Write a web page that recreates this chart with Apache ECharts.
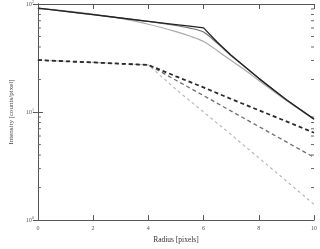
<!DOCTYPE html>
<html><head><meta charset="utf-8">
<script src="https://cdn.jsdelivr.net/npm/echarts@6/dist/echarts.min.js"></script>
<style>html,body{margin:0;padding:0;background:#fff}#c{width:320px;height:249px}</style>
</head><body><div id="c"></div>
<script>
var radius = [0,1,2,3,4,5,5.5,6,6.5,7,7.5,8,9,10];
var solidDark  = [91.6,85.4,79.6,74.2,69.2,64.5,62.3,60.1,44.3,33.5,26.2,20.5,13.0,8.6];
var solidMid   = [91.6,85.4,79.6,74.2,69.0,63.2,59.8,55.0,43.2,33.2,26.1,20.5,13.0,8.6];
var solidLight = [91.0,86.5,80.5,73.5,65.0,55.5,50.5,45.0,37.0,30.0,24.5,19.6,12.8,8.6];
var dashDark   = [30.3,29.5,28.8,28.0,27.3,21.4,null,16.9,null,13.2,null,10.4,8.2,6.43];
var dashMid    = [30.3,29.5,28.8,28.0,27.3,19.7,null,14.2,null,10.2,null,7.35,5.29,3.81];
var dashLight  = [30.3,29.5,28.8,28.0,27.3,16.2,null,10.0,null,6.18,null,3.77,2.30,1.40];
var xTicks = [0,2,4,6,8,10];
var minorTicks = [2,3,4,5,6,7,8,9,20,30,40,50,60,70,80,90];
var xName = 'Radius [pixels]';
var yName = 'Intensity [counts/pixel]';

function pairs(arr){var o=[];for(var i=0;i<radius.length;i++){if(arr[i]!=null)o.push([radius[i],arr[i]]);}return o;}
var font = 'Liberation Serif';
var chart = echarts.init(document.getElementById('c'), null, {renderer:'canvas'});
function lineS(name, data, color, width, type, smooth){
  return {name:name,type:'line',data:pairs(data),showSymbol:false,symbol:'none',smooth:smooth,
    lineStyle:{color:color,width:width,type:type},animation:false,z:3};
}
var option = {
  animation:false,
  grid:{left:24,right:4,top:3,bottom:20},
  xAxis:[{type:'value',min:0,max:10,interval:2,
    axisLine:{show:true,lineStyle:{color:'#555',width:1}},
    axisTick:{show:true,inside:true,length:5,lineStyle:{color:'#555'}},
    splitLine:{show:false},
    axisLabel:{fontFamily:font,fontSize:6,color:'#555',margin:5},
    name:xName,nameLocation:'middle',nameGap:12,
    nameTextStyle:{fontFamily:font,fontSize:7.5,color:'#333'}},
   {type:'value',min:0,max:10,interval:2,position:'top',
    axisLine:{show:true,lineStyle:{color:'#555',width:1}},
    axisTick:{show:true,inside:true,length:5,lineStyle:{color:'#555'}},
    axisLabel:{show:false},splitLine:{show:false}}],
  yAxis:[{type:'log',logBase:10,min:1,max:100,
    axisLine:{show:true,lineStyle:{color:'#555',width:1}},
    axisTick:{show:true,inside:true,length:5,lineStyle:{color:'#555'}},
    splitLine:{show:false},
    axisLabel:{fontFamily:font,fontSize:6,color:'#555',margin:4,
      formatter:function(v){return '10{s|'+Math.round(Math.log10(v))+'}';},
      rich:{s:{fontSize:4,verticalAlign:'top',padding:[0,0,4,0],fontFamily:font,color:'#555'}}},
    name:yName,nameLocation:'middle',nameGap:16,
    nameTextStyle:{fontFamily:font,fontSize:7,color:'#444'}},
   {type:'log',logBase:10,min:1,max:100,position:'right',
    axisLine:{show:true,lineStyle:{color:'#555',width:1}},
    axisTick:{show:true,inside:true,length:5,lineStyle:{color:'#555'}},
    axisLabel:{show:false},splitLine:{show:false}}],
  series:[
    {type:'custom',data:minorTicks.map(function(v){return [0,v];}),silent:true,z:2,clip:false,
     renderItem:function(params,api){
       var v=api.value(1);
       var a=api.coord([0,v]), b=api.coord([10,v]);
       var st={stroke:'#666',lineWidth:1};
       return {type:'group',children:[
         {type:'line',shape:{x1:a[0],y1:a[1],x2:a[0]+3,y2:a[1]},style:st},
         {type:'line',shape:{x1:b[0]-3,y1:b[1],x2:b[0],y2:b[1]},style:st}]};
     }},
    lineS('dash light',dashLight,'#b4b4b4',1.1,[3,3],false),
    lineS('dash mid',dashMid,'#6e6e6e',1.3,[4,3],false),
    lineS('dash dark',dashDark,'#2a2a2a',1.8,[4,3],false),
    lineS('solid light',solidLight,'#aaaaaa',1.2,'solid',0.3),
    lineS('solid mid',solidMid,'#707070',1.2,'solid',0.3),
    lineS('solid dark',solidDark,'#222222',1.3,'solid',false)
  ]
};
chart.setOption(option);
</script></body></html>
